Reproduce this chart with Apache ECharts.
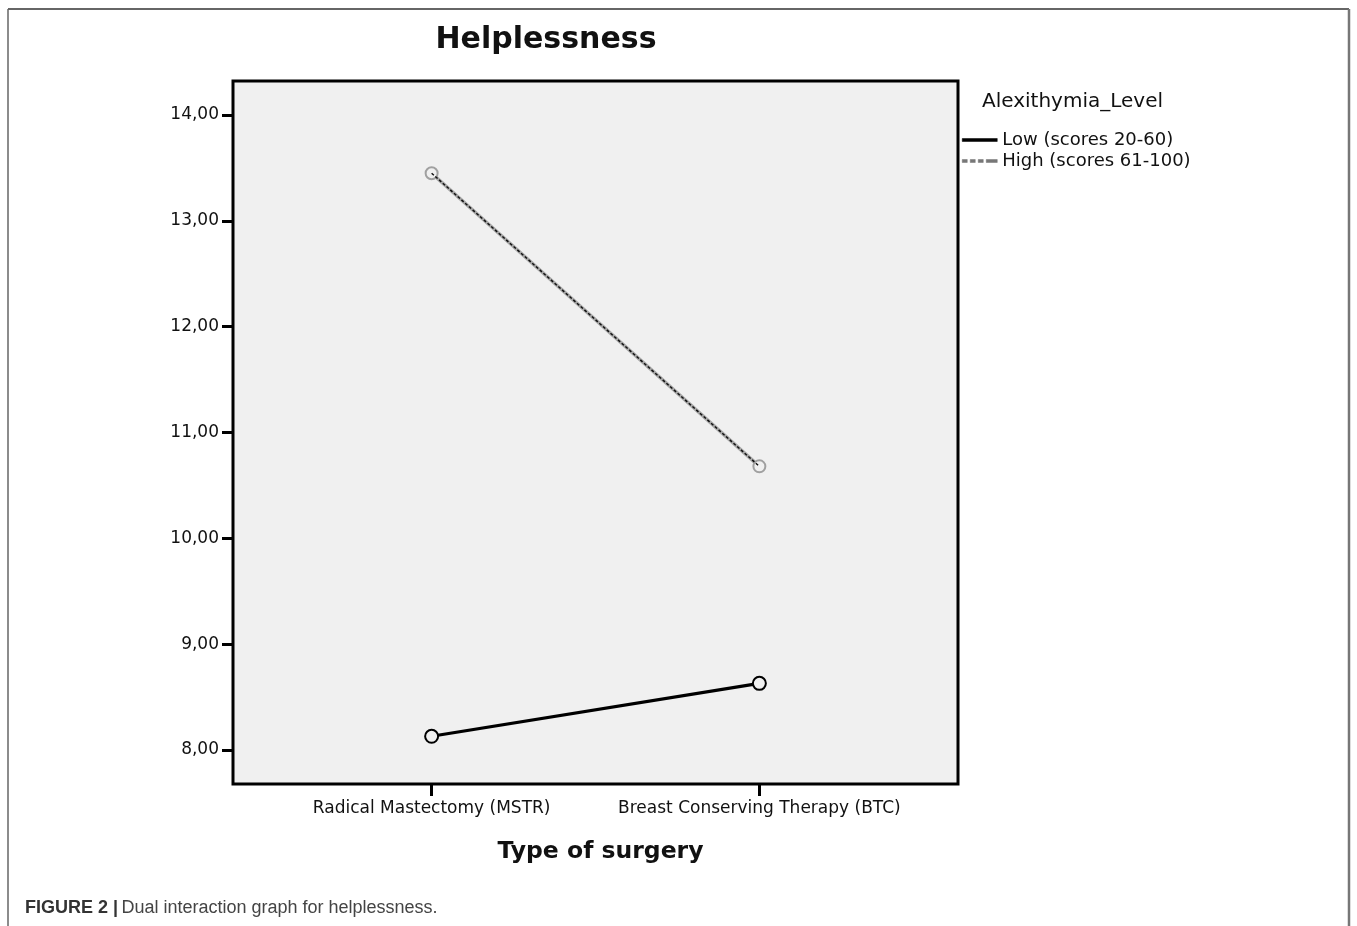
<!DOCTYPE html>
<html>
<head>
<meta charset="utf-8">
<script src="https://cdn.jsdelivr.net/npm/echarts@6/dist/echarts.min.js"></script>
<style>
html,body{margin:0;padding:0;background:#fff;}
#chart{width:1357px;height:926px;}
</style>
</head>
<body>
<div id="chart"></div>
<script>
var categories = ['Radical Mastectomy (MSTR)', 'Breast Conserving Therapy (BTC)'];
var lowValues = [8.13, 8.63];
var highValues = [13.45, 10.68];
var yTicks = [8, 9, 10, 11, 12, 13, 14];
var seriesNames = ['Low (scores 20-60)', 'High (scores 61-100)'];

function toPoints(vals) {
  return vals.map(function (v, i) { return [i + 1, v]; });
}
var dashIcon = 'path://M0,0h5v3h-5z M8,0h5v3h-5z M16,0h5v3h-5z M24,0h11v3h-11z';
var solidIcon = 'path://M0,0h35v3h-35z';

var chart = echarts.init(document.getElementById('chart'));
chart.setOption({
  backgroundColor: '#ffffff',
  animation: false,
  title: {
    text: 'Helplessness',
    left: 541, top: 20, textAlign: 'center',
    textStyle: { fontFamily: 'DejaVu Sans', fontWeight: 'bold', fontSize: 30, color: '#111' }
  },
  grid: {
    left: 233, top: 81, right: 399, bottom: 142,
    show: true, backgroundColor: '#f0f0f0', borderColor: '#000', borderWidth: 3
  },
  legend: {
    orient: 'vertical', left: 962, top: 131, itemWidth: 35, itemHeight: 3, itemGap: 3, padding: 0,
    data: [
      { name: seriesNames[0], icon: solidIcon, itemStyle: { color: '#000', borderColor: '#000', borderWidth: 0.5 } },
      { name: seriesNames[1], icon: dashIcon, itemStyle: { color: '#777', borderColor: '#777', borderWidth: 0.5 } }
    ],
    textStyle: { fontFamily: 'DejaVu Sans', fontSize: 18, color: '#111' },
    selectedMode: false
  },
  graphic: [
    { type: 'text', left: 982, top: 92, style: { text: 'Alexithymia_Level', font: '20px "DejaVu Sans"', fill: '#111' } },
    { type: 'line', shape: { x1: 8, y1: 9, x2: 1349, y2: 9 }, style: { stroke: '#666', lineWidth: 2 } },
    { type: 'line', shape: { x1: 8, y1: 9, x2: 8, y2: 926 }, style: { stroke: '#666', lineWidth: 1.5 } },
    { type: 'line', shape: { x1: 1349, y1: 9, x2: 1349, y2: 926 }, style: { stroke: '#777', lineWidth: 2.5 } },
    { type: 'text', left: 25, top: 899, style: { rich: { b: { fontFamily: 'Liberation Sans', fontWeight: 'bold', fontSize: 18, fill: '#333' }, n: { fontFamily: 'Liberation Sans', fontSize: 18, fill: '#444' } }, text: '{b|FIGURE 2 |} {n|Dual interaction graph for helplessness.}' } }
  ],
  xAxis: {
    type: 'value', min: 0.394, max: 2.606,
    splitLine: { show: false },
    axisLine: { show: false },
    axisTick: { show: true, customValues: [1, 2], length: 12, lineStyle: { color: '#000', width: 3 } },
    axisLabel: {
      customValues: [1, 2], margin: 16,
      formatter: function (v) { return categories[Math.round(v) - 1] || ''; },
      fontFamily: 'DejaVu Sans', fontSize: 17, color: '#111'
    },
    name: 'Type of surgery', nameLocation: 'middle', nameGap: 56,
    nameTextStyle: { fontFamily: 'DejaVu Sans', fontWeight: 'bold', fontSize: 23.5, color: '#111', padding: [0, 0, 0, 10] }
  },
  yAxis: {
    type: 'value', min: 7.679, max: 14.321,
    splitLine: { show: false },
    axisLine: { show: false },
    axisTick: { show: true, customValues: yTicks, length: 11, lineStyle: { color: '#000', width: 3 } },
    axisLabel: {
      customValues: yTicks, margin: 14,
      formatter: function (v) { return v.toFixed(2).replace('.', ','); },
      fontFamily: 'DejaVu Sans', fontSize: 17, color: '#111'
    }
  },
  series: [
    {
      name: seriesNames[0], type: 'line', data: toPoints(lowValues),
      symbol: 'circle', symbolSize: 13,
      lineStyle: { color: '#000', width: 3.2 },
      itemStyle: { color: '#f0f0f0', borderColor: '#000', borderWidth: 2 }, z: 3
    },
    {
      name: seriesNames[1] + ' base', type: 'line', data: toPoints(highValues),
      symbol: 'circle', symbolSize: 12,
      lineStyle: { color: '#a8a8a8', width: 3.5 },
      itemStyle: { color: '#f0f0f0', borderColor: '#a0a0a0', borderWidth: 2 }, z: 2
    },
    {
      name: seriesNames[1], type: 'line', data: toPoints(highValues),
      symbol: 'none',
      lineStyle: { color: '#111', width: 1.5, type: [3, 2] }, z: 4
    }
  ]
});
</script>
</body>
</html>
